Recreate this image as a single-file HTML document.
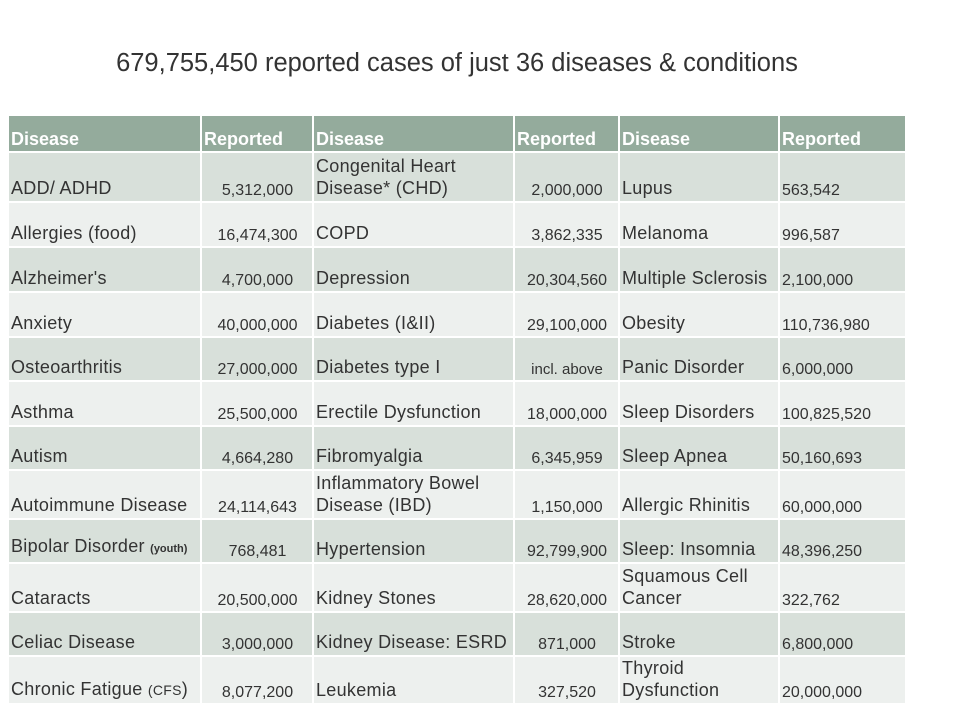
<!DOCTYPE html>
<html><head><meta charset="utf-8"><style>
body{margin:0;width:960px;height:720px;background:#fff;font-family:"Liberation Sans",Arial,sans-serif;position:relative;overflow:hidden}
#title{position:absolute;left:0;width:914px;top:49px;text-align:center;font-size:25.5px;color:#333}
table{position:absolute;left:7px;top:114px;border-collapse:collapse;table-layout:fixed;width:898px}
td,th{border:2px solid #fff;vertical-align:bottom;padding:0 1px 2px 2px;color:#333;font-size:18px;letter-spacing:0.3px;line-height:22px;font-weight:normal;text-align:left;overflow:hidden;white-space:nowrap}
th{background:#94ab9c;color:#fff;font-weight:bold;font-size:18px;letter-spacing:0;padding-bottom:1px}
tr.o td{background:#d8e0da}
tr.e td{background:#edf0ee}
td.n{font-size:16px;letter-spacing:0;text-align:center;line-height:18px;padding-bottom:1px}
td.m{font-size:16px;letter-spacing:0;line-height:18px;padding-bottom:1px}
small{font-size:11px;font-weight:bold;letter-spacing:0}
</style></head><body>
<div id="title">679,755,450 reported cases of just 36 diseases &amp; conditions</div>
<table>
<colgroup><col style="width:193px"><col style="width:112px"><col style="width:201px"><col style="width:105px"><col style="width:160px"><col style="width:127px"></colgroup>
<tr style="height:37px"><th>Disease</th><th>Reported</th><th>Disease</th><th>Reported</th><th>Disease</th><th>Reported</th></tr>
<tr class="o" style="height:50px"><td>ADD/ ADHD</td><td class="n">5,312,000</td><td>Congenital Heart<br>Disease* (CHD)</td><td class="n">2,000,000</td><td>Lupus</td><td class="m">563,542</td></tr>
<tr class="e" style="height:45px"><td>Allergies (food)</td><td class="n">16,474,300</td><td>COPD</td><td class="n">3,862,335</td><td>Melanoma</td><td class="m">996,587</td></tr>
<tr class="o" style="height:45px"><td>Alzheimer's</td><td class="n">4,700,000</td><td>Depression</td><td class="n">20,304,560</td><td>Multiple Sclerosis</td><td class="m">2,100,000</td></tr>
<tr class="e" style="height:45px"><td>Anxiety</td><td class="n">40,000,000</td><td>Diabetes (I&amp;II)</td><td class="n">29,100,000</td><td>Obesity</td><td class="m">110,736,980</td></tr>
<tr class="o" style="height:44px"><td>Osteoarthritis</td><td class="n">27,000,000</td><td>Diabetes type I</td><td class="n" style="font-size:15px">incl. above</td><td>Panic Disorder</td><td class="m">6,000,000</td></tr>
<tr class="e" style="height:45px"><td>Asthma</td><td class="n">25,500,000</td><td>Erectile Dysfunction</td><td class="n">18,000,000</td><td>Sleep Disorders</td><td class="m">100,825,520</td></tr>
<tr class="o" style="height:44px"><td>Autism</td><td class="n">4,664,280</td><td>Fibromyalgia</td><td class="n">6,345,959</td><td>Sleep Apnea</td><td class="m">50,160,693</td></tr>
<tr class="e" style="height:49px"><td>Autoimmune Disease</td><td class="n">24,114,643</td><td>Inflammatory Bowel<br>Disease (IBD)</td><td class="n">1,150,000</td><td>Allergic Rhinitis</td><td class="m">60,000,000</td></tr>
<tr class="o" style="height:44px"><td>Bipolar Disorder <small>(youth)</small></td><td class="n">768,481</td><td>Hypertension</td><td class="n">92,799,900</td><td>Sleep: Insomnia</td><td class="m">48,396,250</td></tr>
<tr class="e" style="height:49px"><td>Cataracts</td><td class="n">20,500,000</td><td>Kidney Stones</td><td class="n">28,620,000</td><td>Squamous Cell<br>Cancer</td><td class="m">322,762</td></tr>
<tr class="o" style="height:44px"><td>Celiac Disease</td><td class="n">3,000,000</td><td>Kidney Disease: ESRD</td><td class="n">871,000</td><td>Stroke</td><td class="m">6,800,000</td></tr>
<tr class="e" style="height:47px"><td>Chronic Fatigue <span style="font-size:14px">(CFS</span>)</td><td class="n">8,077,200</td><td>Leukemia</td><td class="n">327,520</td><td>Thyroid<br>Dysfunction</td><td class="m">20,000,000</td></tr>
</table>
</body></html>
